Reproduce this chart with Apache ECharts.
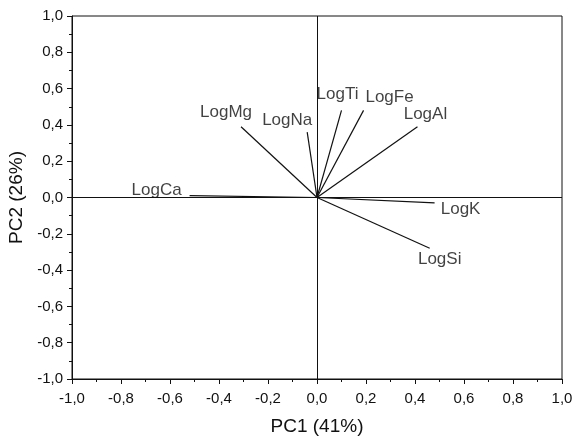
<!DOCTYPE html>
<html>
<head>
<meta charset="utf-8">
<script src="https://cdn.jsdelivr.net/npm/echarts@6/dist/echarts.min.js"></script>
<style>html,body{margin:0;padding:0;background:#fff}#c{width:576px;height:436px}</style>
</head>
<body>
<div id="c"></div>
<script>
// ---- data ----
const variables = ['LogCa', 'LogMg', 'LogNa', 'LogTi', 'LogFe', 'LogAl', 'LogK', 'LogSi'];
const pc1 = [-0.52, -0.31, -0.04, 0.10, 0.19, 0.41, 0.48, 0.46];
const pc2 = [0.01, 0.39, 0.36, 0.48, 0.48, 0.39, -0.03, -0.28];
const axisTicks = [-1.0, -0.8, -0.6, -0.4, -0.2, 0.0, 0.2, 0.4, 0.6, 0.8, 1.0];
const xTitle = 'PC1 (41%)';
const yTitle = 'PC2 (26%)';

// ---- label styling (offsets in pixels from the vector tip) ----
const labelOffset = {
  LogCa: [-33, -5], LogMg: [-15, -14], LogNa: [-20, -12], LogTi: [-4, -16],
  LogFe: [26, -13], LogAl: [8, -12], LogK: [26, 6], LogSi: [10, 11]
};

const FONT = 'Liberation Sans, Arial, sans-serif';
const INK = '#111';
const fmt = v => v.toFixed(1).replace('.', ',');

const vectorSeries = variables.map((name, i) => ({
  type: 'line',
  name: name,
  data: [[0, 0], [pc1[i], pc2[i]]],
  symbol: 'none',
  silent: true,
  lineStyle: { color: INK, width: 1.2 },
  z: 3
}));

const axisCommon = (name) => ({
  type: 'value',
  min: axisTicks[0],
  max: axisTicks[axisTicks.length - 1],
  interval: 0.2,
  name: name,
  nameLocation: 'middle',
  nameTextStyle: { fontFamily: FONT, fontSize: 19, color: INK },
  axisLine: { show: true, onZero: false, lineStyle: { color: INK, width: 1 } },
  axisTick: { show: true, inside: false, length: 5, lineStyle: { color: INK, width: 1 } },
  minorTick: { show: true, splitNumber: 2, length: 3, lineStyle: { color: INK, width: 1 } },
  splitLine: { show: false },
  axisLabel: { fontFamily: FONT, fontSize: 15, color: INK, formatter: fmt }
});

const xAxis = Object.assign(axisCommon(xTitle), { nameGap: 38 });
xAxis.axisLabel.margin = 12;
const yAxis = Object.assign(axisCommon(yTitle), { nameGap: 46, nameRotate: 90 });
yAxis.axisLabel.margin = 9;

const chart = echarts.init(document.getElementById('c'), null, { renderer: 'canvas' });
chart.setOption({
  animation: false,
  backgroundColor: '#fff',
  grid: {
    left: 72, right: 14, top: 16, bottom: 57,
    containLabel: false, outerBoundsMode: 'none',
    show: true, borderColor: INK, borderWidth: 1, backgroundColor: 'transparent'
  },
  xAxis: xAxis,
  yAxis: yAxis,
  series: [
    {
      type: 'line',
      data: [],
      silent: true,
      markLine: {
        silent: true,
        symbol: 'none',
        label: { show: false },
        lineStyle: { color: INK, width: 1, type: 'solid' },
        data: [{ xAxis: 0 }, { yAxis: 0 }]
      }
    },
    ...vectorSeries,
    {
      type: 'scatter',
      symbolSize: 0,
      silent: true,
      data: variables.map((name, i) => ({
        name: name,
        value: [pc1[i], pc2[i]],
        label: { offset: labelOffset[name] }
      })),
      label: {
        show: true,
        position: 'inside',
        align: 'center',
        verticalAlign: 'middle',
        formatter: p => p.name,
        fontFamily: FONT,
        fontSize: 17,
        color: INK
      },
      z: 4
    }
  ]
});
</script>
</body>
</html>
